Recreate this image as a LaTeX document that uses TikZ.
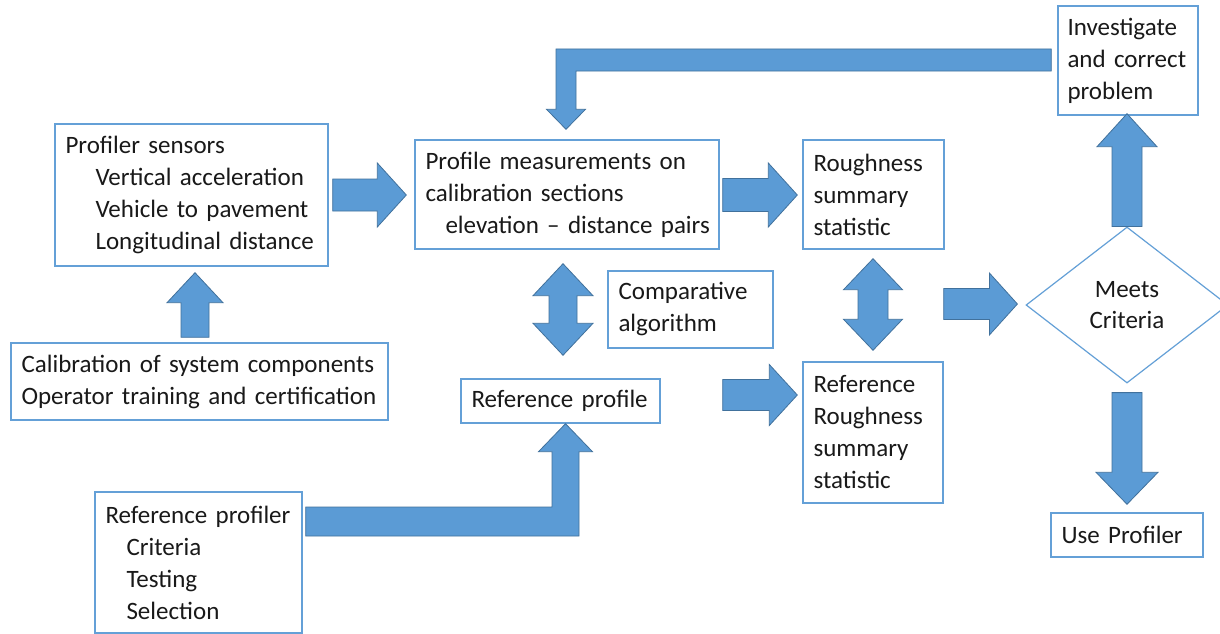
\documentclass[tikz,border=0pt]{standalone}
\usepackage{fontspec}
\setmainfont{Carlito}
\usetikzlibrary{calc,shapes.geometric}
\definecolor{arrfill}{RGB}{91,155,213}
\definecolor{arredge}{RGB}{65,113,156}
\definecolor{boxedge}{RGB}{100,160,215}
\definecolor{txt}{RGB}{25,25,25}
% right-pointing block arrow: tail, tip, shaft half, head half, head length
\newcommand\rarr[5]{\path[arr] let \p1=#1, \p2=#2 in
  (\x1,\y2+#3pt) -- (\x2-#5pt,\y2+#3pt) -- (\x2-#5pt,\y2+#4pt) -- (\x2,\y2) --
  (\x2-#5pt,\y2-#4pt) -- (\x2-#5pt,\y2-#3pt) -- (\x1,\y2-#3pt) -- cycle;}
% upward block arrow
\newcommand\uarr[5]{\path[arr] let \p1=#1, \p2=#2 in
  (\x2-#3pt,\y1) -- (\x2-#3pt,\y2-#5pt) -- (\x2-#4pt,\y2-#5pt) -- (\x2,\y2) --
  (\x2+#4pt,\y2-#5pt) -- (\x2+#3pt,\y2-#5pt) -- (\x2+#3pt,\y1) -- cycle;}
% downward block arrow
\newcommand\darr[5]{\path[arr] let \p1=#1, \p2=#2 in
  (\x2-#3pt,\y1) -- (\x2-#3pt,\y2+#5pt) -- (\x2-#4pt,\y2+#5pt) -- (\x2,\y2) --
  (\x2+#4pt,\y2+#5pt) -- (\x2+#3pt,\y2+#5pt) -- (\x2+#3pt,\y1) -- cycle;}
% vertical double block arrow: top tip, bottom tip
\newcommand\vdarr[5]{\path[arr] let \p1=#1, \p2=#2 in
  (\x1,\y1) -- (\x1+#4pt,\y1-#5pt) -- (\x1+#3pt,\y1-#5pt) -- (\x1+#3pt,\y2+#5pt) --
  (\x1+#4pt,\y2+#5pt) -- (\x1,\y2) -- (\x1-#4pt,\y2+#5pt) -- (\x1-#3pt,\y2+#5pt) --
  (\x1-#3pt,\y1-#5pt) -- (\x1-#4pt,\y1-#5pt) -- cycle;}
\begin{document}
\begin{tikzpicture}[x=1pt,y=-1pt,
  box/.style={draw=boxedge,line width=1.4pt,rectangle,inner xsep=10.5pt,inner ysep=0pt,
    align=left,text=txt,font=\fontsize{25}{32}\selectfont},
  arr/.style={fill=arrfill,draw=arredge,line width=0.8pt,line join=miter},
  dmd/.style={draw=boxedge,line width=1.2pt,diamond,inner sep=0pt,align=center,
    text=txt,font=\fontsize{25}{31}\selectfont}]
\useasboundingbox (0,0) rectangle (1220,634);
\fill[white] (0,0) rectangle (1220,634);

% boxes
\node[box,minimum width=273pt,minimum height=142pt,text width=252pt] (ps) at (191.5,195)
  {Profiler sensors\\\hspace*{30pt}Vertical acceleration\\\hspace*{30pt}Vehicle to pavement\\\hspace*{30pt}Longitudinal distance};
\node[box,minimum width=377pt,minimum height=77pt,text width=356pt] (cal) at (199.5,381.5)
  {Calibration of system components\\Operator training and certification};
\node[box,minimum width=304pt,minimum height=109pt,text width=283pt] (pm) at (567,194.5)
  {Profile measurements on\\calibration sections\\\mbox{\hspace*{20pt}elevation -- distance pairs}};
\node[box,minimum width=141pt,minimum height=109pt,text width=120pt] (rs) at (873.5,194.5)
  {Roughness\\summary\\statistic};
\node[box,minimum width=140pt,minimum height=109pt,text width=121pt,inner xsep=9.5pt] (inv) at (1128,60.5)
  {Investigate\\and correct\\problem};
\node[box,minimum width=165pt,minimum height=77pt,text width=144pt] (ca) at (690.5,309.5)
  {Comparative\\algorithm};
\node[box,minimum width=199pt,minimum height=44pt,text width=178pt] (rp) at (560.5,401)
  {Reference profile};
\node[box,minimum width=140pt,minimum height=141pt,text width=119pt] (rr) at (873,432.5)
  {Reference\\Roughness\\summary\\statistic};
\node[box,minimum width=207pt,minimum height=141pt,text width=186pt] (rpr) at (198.5,562.5)
  {Reference profiler\\\hspace*{21pt}Criteria\\\hspace*{21pt}Testing\\\hspace*{21pt}Selection};
\node[box,minimum width=152pt,minimum height=44pt,text width=131pt] (up) at (1127,535)
  {Use Profiler};
\node[dmd,minimum width=202pt,minimum height=156pt] (dm) at (1127,305) {Meets\\Criteria};

% straight block arrows
\rarr{($(ps.east)+(4,0)$)}{($(pm.west)+(-8,0.5)$)}{16}{32}{29}
\rarr{($(pm.east)+(3,0)$)}{($(rs.west)+(-5,0.5)$)}{16.5}{32}{29}
\uarr{($(cal.north)+(0,-5)$)}{($(ps.south)+(3.5,6)$)}{14}{28}{30}
\rarr{($(rs.south east)+(-1,0)$)}{($(dm.west)+(-8,-1)$)}{15.5}{31}{28}
\rarr{($(rp.east)+(62,0)$)}{($(rr.west)+(-5,-37.5)$)}{15.5}{30.5}{28}
\vdarr{($(pm.south)+(-4,14)$)}{($(rp.north)+(2.5,-23)$)}{14}{30}{32}
\vdarr{($(rs.south)+(-0.5,9)$)}{($(rr.north)+(0,-11)$)}{15}{29.5}{31}
\uarr{(dm.north)}{($(inv.south)+(-1,-2)$)}{15}{30}{33}
\darr{($(dm.south)+(0,9)$)}{($(up.north)+(0,-8)$)}{15}{31}{32}

% bent arrow: investigate -> profile measurements
\path[arr] let \p1=($(inv.west)+(-6,-0.5)$), \p2=($(pm.north)+(-1,-10)$) in
  (\x1,\y1+11pt) -- (\x2-10pt,\y1+11pt) -- (\x2-10pt,\y2+20pt) -- (\x2-19.5pt,\y2+20pt) --
  (\x2,\y2) -- (\x2+19.5pt,\y2+20pt) -- (\x2+10pt,\y2+20pt) -- (\x2+10pt,\y1-11pt) --
  (\x1,\y1-11pt) -- cycle;

% bent arrow: reference profiler -> reference profile
\path[arr] let \p1=($(rpr.east)+(3,-41)$), \p2=($(rp.south)+(5,0)$) in
  (\x1,\y1+14.5pt) -- (\x2-13.5pt,\y1+14.5pt) -- (\x2-13.5pt,\y2-28pt) -- (\x2-27pt,\y2-28pt) --
  (\x2,\y2) -- (\x2+27pt,\y2-28pt) -- (\x2+13.5pt,\y2-28pt) -- (\x2+13.5pt,\y1-14.5pt) --
  (\x1,\y1-14.5pt) -- cycle;
\end{tikzpicture}
\end{document}
